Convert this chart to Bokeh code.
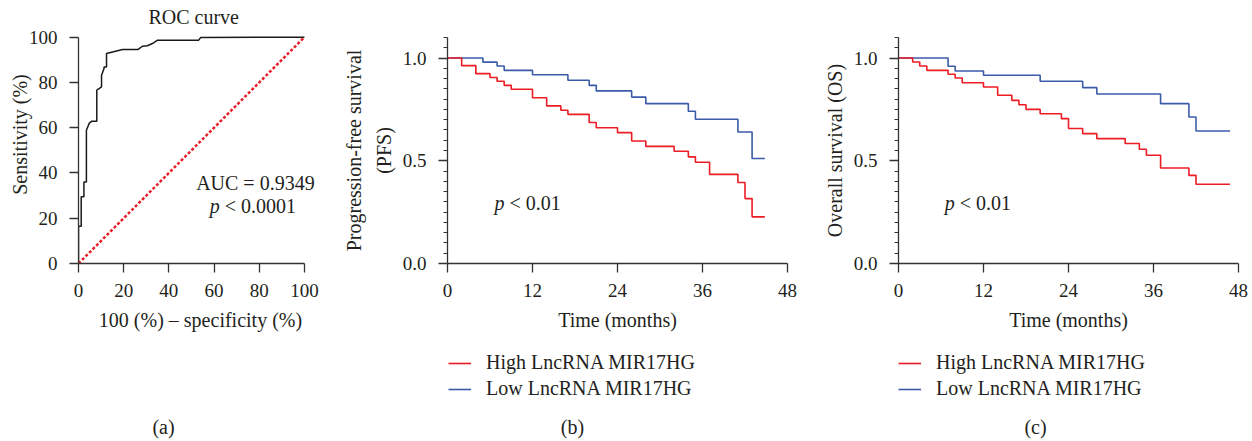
from bokeh.plotting import figure
from bokeh.layouts import row, column
from bokeh.models import Range1d, FixedTicker, Label, Legend, LegendItem, PrintfTickFormatter
from bokeh.embed import file_html
from bokeh.resources import INLINE

FONT = "Liberation Serif"
TXT = "#231f20"
AX = "#333333"
RED = "#ed1c24"
BLUE = "#3b5ba9"

# ---------------- data ----------------
roc_fpr = [0, 0, 1.2, 1.2, 2.4, 2.4, 3.5, 3.5, 4.7, 5.9, 8.1, 8.1, 10.2, 10.2, 11.3, 11.3, 12.4, 12.4,
           19.5, 26.4, 28.3, 30.5, 32.7, 35.0, 53.2, 54.1, 100]
roc_tpr = [0, 16.5, 16.5, 29.5, 29.5, 36, 36, 58.9, 61.9, 62.9, 62.9, 76.6, 78.0, 83.2, 86.2, 86.8, 86.8, 92.8,
           94.6, 94.6, 96.0, 96.2, 97.2, 98.7, 98.7, 99.9, 100]
roc_ticks = [0, 20, 40, 60, 80, 100]
auc_text = "AUC = 0.9349"
roc_p_text = "< 0.0001"

time_ticks = [0, 12, 24, 36, 48]
surv_ticks = [0.0, 0.5, 1.0]

pfs_high_times = [2, 4, 6, 7, 8, 9, 12, 14, 16, 17, 20, 21, 24, 26, 28, 32, 34, 35, 37, 41, 42, 43]
pfs_high_surv = [0.963, 0.924, 0.905, 0.887, 0.867, 0.848, 0.807, 0.767, 0.746, 0.726, 0.686, 0.661,
                 0.637, 0.596, 0.570, 0.546, 0.519, 0.493, 0.434, 0.394, 0.316, 0.227]
pfs_high_end = 44.8
pfs_low_times = [5, 7, 8, 12, 17, 20, 21, 26, 28, 34, 35, 41, 43]
pfs_low_surv = [0.980, 0.961, 0.940, 0.919, 0.892, 0.867, 0.840, 0.810, 0.778, 0.741, 0.702, 0.640, 0.511]
pfs_low_end = 44.8

os_high_times = [2, 3, 4, 7, 8, 9, 12, 14, 16, 17, 18, 20, 23, 24, 26, 28, 32, 34, 35, 37, 41, 42]
os_high_surv = [0.981, 0.961, 0.940, 0.921, 0.903, 0.880, 0.859, 0.819, 0.794, 0.773, 0.750, 0.729,
                0.705, 0.657, 0.632, 0.608, 0.584, 0.556, 0.527, 0.465, 0.429, 0.386]
os_high_end = 46.8
os_low_times = [7, 8, 12, 20, 26, 28, 37, 41, 42]
os_low_surv = [0.960, 0.937, 0.916, 0.887, 0.856, 0.825, 0.778, 0.713, 0.645]
os_low_end = 46.8

pval_text = "< 0.01"
label_high = "High LncRNA MIR17HG"
label_low = "Low LncRNA MIR17HG"
captions = ["(a)", "(b)", "(c)"]


def style(p, ylab_standoff, ytick_standoff):
    for ax in (p.xaxis[0], p.yaxis[0]):
        ax.axis_line_color = AX
        ax.axis_line_width = 1.3
        ax.major_tick_line_color = AX
        ax.major_tick_line_width = 1.3
        ax.minor_tick_line_color = AX
        ax.minor_tick_line_width = 1.2
        ax.major_tick_in = 0
        ax.major_tick_out = 9
        ax.minor_tick_in = 0
        ax.minor_tick_out = 4
        ax.major_label_text_font = FONT
        ax.major_label_text_font_size = "19px"
        ax.major_label_text_color = TXT
        ax.axis_label_text_font = FONT
        ax.axis_label_text_font_size = "20px"
        ax.axis_label_text_font_style = "normal"
        ax.axis_label_text_color = TXT
    p.xaxis[0].major_label_standoff = 11
    p.xaxis[0].axis_label_standoff = 9
    p.yaxis[0].major_label_standoff = ytick_standoff
    p.yaxis[0].axis_label_standoff = ylab_standoff
    p.grid.visible = False
    p.outline_line_color = None
    p.background_fill_color = None
    p.border_fill_color = None


def text(p, x, y, t, align="center", italic=False, size="20px"):
    p.add_layout(Label(x=x, y=y, text=t, text_font=FONT, text_font_size=size,
                       text_font_style="italic" if italic else "normal", text_color=TXT,
                       text_align=align, text_baseline="middle"))


def bottom_fig(left, fw, right, cap, cap_x, series=None, leg_x=0):
    # frame aligned with the panel above; x/y data units equal pixels from frame left / bottom
    q = figure(frame_width=fw, frame_height=101, min_border_left=left, min_border_right=right,
               min_border_top=0, min_border_bottom=0,
               x_range=Range1d(0, fw), y_range=Range1d(0, 101),
               x_axis_type=None, y_axis_type=None,
               output_backend="svg", toolbar_location=None)
    q.outline_line_color = None
    q.background_fill_color = None
    q.border_fill_color = None
    text(q, cap_x, 15, cap)
    if series is not None:
        (hx, hy), (lx, ly) = series
        rh = q.step(hx, hy, mode="after", line_color=RED, line_width=1.6, visible=False)
        rl = q.step(lx, ly, mode="after", line_color=BLUE, line_width=1.6, visible=False)
        leg = Legend(items=[LegendItem(label=label_high, renderers=[rh]),
                            LegendItem(label=label_low, renderers=[rl])],
                     location=(leg_x, 41), orientation="vertical")
        leg.border_line_color = None
        leg.background_fill_alpha = 0
        leg.inactive_fill_alpha = 0
        leg.padding = 0
        leg.margin = 0
        leg.spacing = 3
        leg.glyph_width = 23
        leg.glyph_height = 20
        leg.label_height = 20
        leg.label_width = 230
        leg.label_standoff = 15
        leg.label_text_font = FONT
        leg.label_text_font_size = "20px"
        leg.label_text_color = TXT
        q.add_layout(leg)
    return q


# ---------------- (a) ROC ----------------
pa = figure(frame_width=244, frame_height=258, min_border_left=78, min_border_right=18,
            min_border_top=5, min_border_bottom=77, x_range=Range1d(0, 108), y_range=Range1d(0, 114),
            output_backend="svg", toolbar_location=None)
pa.line(roc_fpr, roc_tpr, line_color="#1a1a1a", line_width=1.5)
pa.line([0, 100], [0, 100], line_color="#e8202a", line_width=2.5, line_dash="3 2")
pa.xaxis.ticker = FixedTicker(ticks=roc_ticks)
pa.yaxis.ticker = FixedTicker(ticks=roc_ticks)
pa.xaxis.bounds = (0, 100)
pa.yaxis.bounds = (0, 100)
pa.xaxis.axis_label = "100 (%) \u2013 specificity (%)"
pa.yaxis.axis_label = "Sensitivity (%)"
style(pa, -5, 12)
text(pa, 51, 108.8, "ROC curve")
text(pa, 78.3, 35.5, auc_text)
text(pa, 62.5, 25.3, "p", align="right", italic=True)
text(pa, 64.7, 25.3, roc_p_text, align="left")
qa = bottom_fig(78, 244, 18, captions[0], 85)


def km_series(high_t, high_s, high_end, low_t, low_s, low_end):
    hx = [0] + high_t + [high_end]
    hy = [1.0] + high_s + [high_s[-1]]
    lx = [0] + low_t + [low_end]
    ly = [1.0] + low_s + [low_s[-1]]
    return (hx, hy), (lx, ly)


def km_panel(left, right, ylabel, series, px):
    (hx, hy), (lx, ly) = series
    p = figure(frame_width=340, frame_height=226, min_border_left=left, min_border_right=right,
               min_border_top=37, min_border_bottom=77, x_range=Range1d(0, 48), y_range=Range1d(0, 1.1),
               output_backend="svg", toolbar_location=None)
    p.step(lx, ly, mode="after", line_color=BLUE, line_width=1.6)
    p.step(hx, hy, mode="after", line_color=RED, line_width=1.6)
    p.xaxis.ticker = FixedTicker(ticks=time_ticks)
    p.yaxis.ticker = FixedTicker(ticks=surv_ticks, minor_ticks=[round(0.05 * i, 2) for i in range(23)])
    p.yaxis.formatter = PrintfTickFormatter(format="%.1f")
    p.xaxis.axis_label = "Time (months)"
    p.yaxis.axis_label = ylabel
    p.yaxis.axis_label_text_line_height = 1.33
    style(p, 5, 12)
    text(p, px, 0.293, "p", align="right", italic=True)
    text(p, px + 0.71, 0.293, pval_text, align="left")
    return p


sb = km_series(pfs_high_times, pfs_high_surv, pfs_high_end, pfs_low_times, pfs_low_surv, pfs_low_end)
sc = km_series(os_high_times, os_high_surv, os_high_end, os_low_times, os_low_surv, os_low_end)

pb = km_panel(106, 14, "Progression-free survival\n(PFS)", sb, 8.05)
qb = bottom_fig(106, 340, 14, captions[1], 125, sb, 1)
pc = km_panel(97, 15, "Overall survival (OS)", sc, 7.95)
qc = bottom_fig(97, 340, 15, captions[2], 137, sc, 0)

layout = row(column(pa, qa), column(pb, qb), column(pc, qc))
open("out.html", "w").write(file_html(layout, INLINE))
